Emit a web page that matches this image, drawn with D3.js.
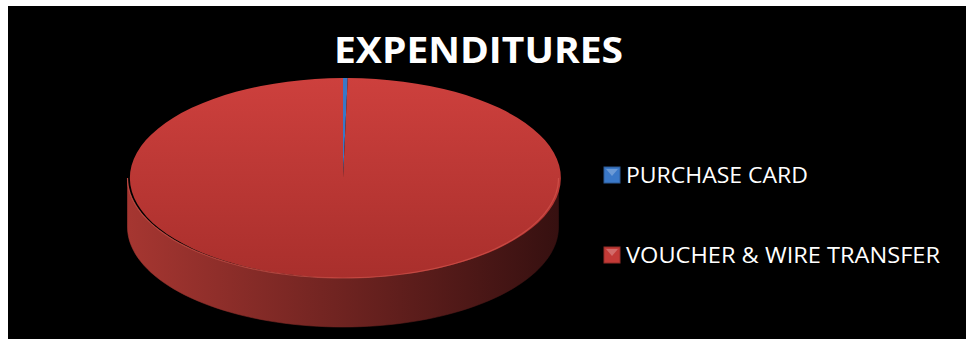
<!DOCTYPE html>
<html>
<head>
<meta charset="utf-8">
<script src="https://cdn.jsdelivr.net/npm/d3@7"></script>
<style>
  body { margin: 0; background: #fff; }
  svg { display: block; }
</style>
</head>
<body>
<div id="chart"></div>
<script>
// data (share of expenditures, %)
const categories = ['PURCHASE CARD', 'VOUCHER & WIRE TRANSFER'];
const values = [0.35, 99.65];
const colors = ['#3a78c8', '#c33a37'];
const sideColors = [['#2f5f9e', '#12284a'], ['#a63631', '#361010']];

const width = 970, height = 339;
const svg = d3.select('#chart').append('svg')
    .attr('width', width)
    .attr('height', height);

// black chart area
svg.append('rect')
    .attr('x', 8).attr('y', 6)
    .attr('width', 958).attr('height', 340)
    .attr('fill', '#000');

const defs = svg.append('defs');

// pie geometry
const cx = 343, cy = 178, rx = 215.5, ry = 100, depth = 49;

const topGrad = defs.append('linearGradient')
    .attr('id', 'topGrad').attr('x1', 0).attr('y1', 0).attr('x2', 0).attr('y2', 1);
topGrad.append('stop').attr('offset', '0%').attr('stop-color', '#cd403d');
topGrad.append('stop').attr('offset', '100%').attr('stop-color', '#a92f2c');

sideColors.forEach((c, i) => {
    const g = defs.append('linearGradient')
        .attr('id', 'side' + i)
        .attr('gradientUnits', 'userSpaceOnUse')
        .attr('x1', cx - rx).attr('y1', 0).attr('x2', cx + rx).attr('y2', 0);
    g.append('stop').attr('offset', '0%').attr('stop-color', c[0]);
    g.append('stop').attr('offset', '45%').attr('stop-color', d3.interpolateRgb(c[0], c[1])(0.45));
    g.append('stop').attr('offset', '100%').attr('stop-color', c[1]);
});

const pie = d3.pie().sort(null).value(d => d);
const arcs = pie(values);

// point on the ellipse, d3 angle convention (0 = 12 o'clock, clockwise)
const px = a => cx + rx * Math.sin(a);
const py = a => cy - ry * Math.cos(a);

// side walls: only the front half (angles between PI/2 and 3PI/2) is visible
const side = svg.append('g');
arcs.forEach((d, i) => {
    const a0 = Math.max(d.startAngle, Math.PI / 2);
    const a1 = Math.min(d.endAngle, 3 * Math.PI / 2);
    if (a1 <= a0) return;
    const n = 80;
    const pts = d3.range(n + 1).map(k => a0 + (a1 - a0) * k / n);
    let p = 'M' + px(a0) + ',' + py(a0);
    pts.forEach(a => { p += 'L' + px(a) + ',' + py(a); });
    pts.slice().reverse().forEach(a => { p += 'L' + px(a) + ',' + (py(a) + depth); });
    p += 'Z';
    side.append('path')
        .attr('d', p)
        .attr('fill', 'url(#side' + i + ')')
        .attr('stroke', 'url(#side' + i + ')')
        .attr('stroke-width', 0.6);
});

// top face: d3.arc on a unit radius, squashed into the ellipse
const arc = d3.arc().innerRadius(0).outerRadius(1);
const topFace = svg.append('g')
    .attr('transform', `translate(${cx},${cy}) scale(${rx},${ry})`);
topFace.selectAll('path')
    .data(arcs)
    .enter().append('path')
    .attr('d', arc)
    .attr('fill', (d, i) => i === 1 ? 'url(#topGrad)' : colors[i]);

// light rim on the front edge of the top face
const rim = d3.range(0, 81).map(k => Math.PI / 2 + Math.PI * k / 80);
svg.append('path')
    .attr('d', d3.line()(rim.map(a => [px(a), py(a)])))
    .attr('fill', 'none')
    .attr('stroke', '#d85a52')
    .attr('stroke-opacity', 0.6)
    .attr('stroke-width', 1.2);

// title
svg.append('text')
    .attr('x', 478.5).attr('y', 63)
    .attr('text-anchor', 'middle')
    .attr('font-family', 'Open Sans, sans-serif')
    .attr('font-weight', 'bold')
    .attr('font-size', 35)
    .attr('textLength', 289)
    .attr('lengthAdjust', 'spacingAndGlyphs')
    .attr('fill', '#fff')
    .text('EXPENDITURES');

// legend
const legendY = [175, 255];
const legendW = [182, 314];
const legend = svg.selectAll('.legend')
    .data(categories)
    .enter().append('g')
    .attr('class', 'legend')
    .attr('transform', (d, i) => `translate(604,${legendY[i]})`);

legend.append('rect')
    .attr('x', 0).attr('y', -8)
    .attr('width', 16).attr('height', 16)
    .attr('fill', (d, i) => colors[i])
    .attr('stroke', (d, i) => d3.color(colors[i]).darker(0.8))
    .attr('stroke-width', 1);

legend.append('path')
    .attr('d', 'M2,-6L14,-6L8,1Z')
    .attr('fill', '#fff')
    .attr('fill-opacity', 0.25);

legend.append('text')
    .attr('x', 22).attr('y', 8)
    .attr('font-family', 'Open Sans, sans-serif')
    .attr('font-size', 21)
    .attr('textLength', (d, i) => legendW[i])
    .attr('lengthAdjust', 'spacingAndGlyphs')
    .attr('fill', '#fff')
    .text(d => d);
</script>
</body>
</html>
